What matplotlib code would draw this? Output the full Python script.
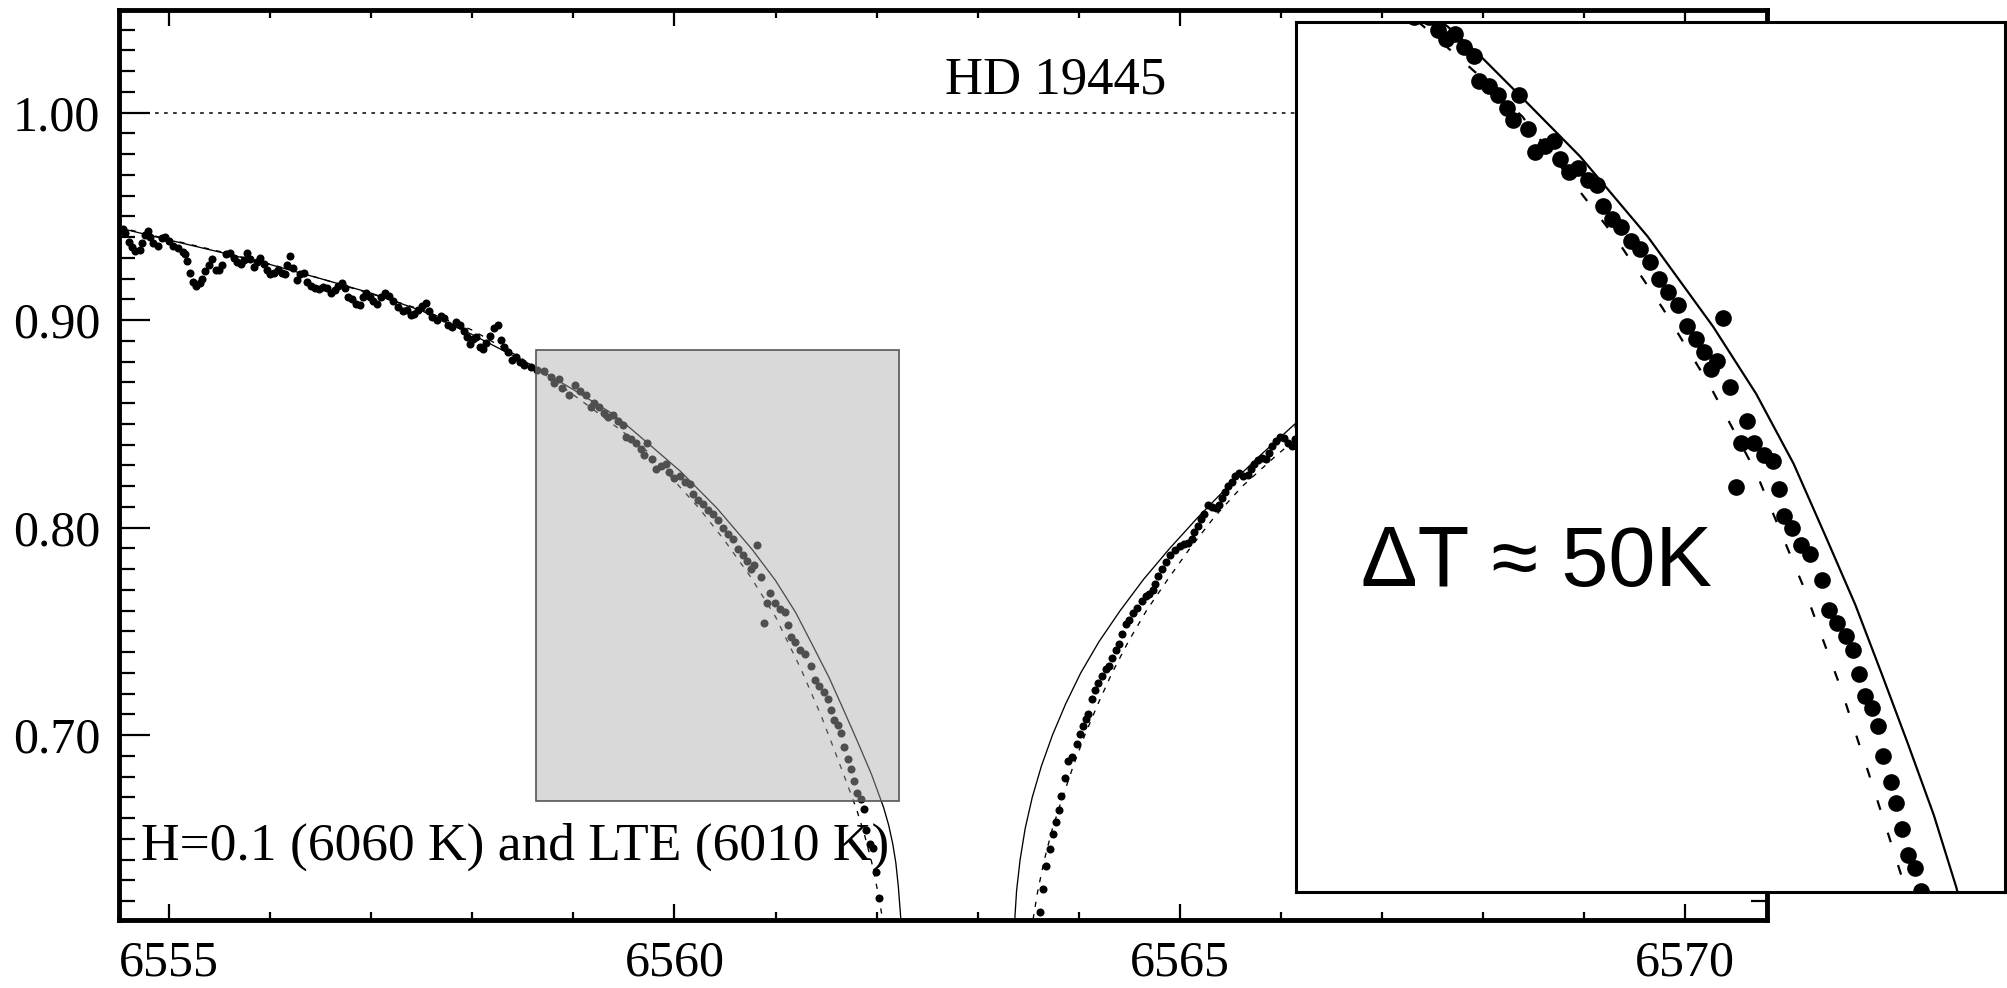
import matplotlib
matplotlib.use("Agg")
import matplotlib.pyplot as plt
from matplotlib.patches import Rectangle
from matplotlib.ticker import MultipleLocator, FormatStrFormatter

plt.rcParams["font.family"] = ["Liberation Serif", "DejaVu Serif"]

# observed spectrum, HD 19445 (H-alpha wings)
wave_obs = [
    6554.54, 6554.56, 6554.60, 6554.63, 6554.66, 6554.71, 6554.73, 6554.76, 6554.79, 6554.81,
    6554.84, 6554.89, 6554.93, 6554.96, 6555.00, 6555.04, 6555.09, 6555.14, 6555.16, 6555.18,
    6555.21, 6555.24, 6555.27, 6555.31, 6555.33, 6555.36, 6555.39, 6555.42, 6555.46, 6555.49,
    6555.52, 6555.56, 6555.60, 6555.64, 6555.67, 6555.71, 6555.74, 6555.77, 6555.80, 6555.84,
    6555.87, 6555.90, 6555.94, 6555.97, 6556.00, 6556.04, 6556.08, 6556.12, 6556.15, 6556.17,
    6556.20, 6556.23, 6556.27, 6556.30, 6556.33, 6556.36, 6556.40, 6556.44, 6556.48, 6556.52,
    6556.56, 6556.60, 6556.64, 6556.67, 6556.71, 6556.74, 6556.77, 6556.81, 6556.85, 6556.89,
    6556.92, 6556.95, 6556.99, 6557.02, 6557.06, 6557.10, 6557.14, 6557.18, 6557.22, 6557.26,
    6557.31, 6557.35, 6557.39, 6557.42, 6557.46, 6557.50, 6557.54, 6557.57, 6557.60, 6557.65,
    6557.69, 6557.72, 6557.76, 6557.80, 6557.84, 6557.88, 6557.92, 6557.95, 6557.98, 6558.01,
    6558.04, 6558.08, 6558.11, 6558.14, 6558.17, 6558.21, 6558.25, 6558.28, 6558.31, 6558.35,
    6558.39, 6558.43, 6558.47, 6558.51, 6558.58, 6558.64, 6558.71, 6558.78, 6558.81, 6558.86,
    6558.89, 6558.96, 6559.02, 6559.07, 6559.12, 6559.17, 6559.20, 6559.25, 6559.30, 6559.34,
    6559.39, 6559.44, 6559.49, 6559.52, 6559.57, 6559.62, 6559.67, 6559.70, 6559.73, 6559.78,
    6559.82, 6559.87, 6559.92, 6559.95, 6560.00, 6560.05, 6560.10, 6560.15, 6560.18, 6560.23,
    6560.28, 6560.33, 6560.38, 6560.43, 6560.48, 6560.53, 6560.58, 6560.63, 6560.68, 6560.72,
    6560.76, 6560.79, 6560.82, 6560.86, 6560.89, 6560.92, 6560.95, 6560.99, 6561.04, 6561.09,
    6561.12, 6561.15, 6561.19, 6561.24, 6561.29, 6561.35, 6561.39, 6561.43, 6561.48, 6561.52,
    6561.55, 6561.58, 6561.62, 6561.65, 6561.68, 6561.72, 6561.75, 6561.78, 6561.81, 6561.85,
    6561.88, 6561.90, 6561.93, 6561.96, 6561.99, 6562.02,
    6563.614, 6563.647, 6563.680, 6563.714, 6563.746, 6563.773, 6563.803, 6563.829, 6563.862, 6563.895,
    6563.935, 6563.978, 6564.011, 6564.044, 6564.067, 6564.093, 6564.136, 6564.160, 6564.193, 6564.226,
    6564.265, 6564.302, 6564.331, 6564.364, 6564.397, 6564.430, 6564.463, 6564.496, 6564.539, 6564.579,
    6564.622, 6564.662, 6564.695, 6564.738, 6564.754, 6564.787, 6564.820, 6564.860, 6564.903, 6564.952,
    6565.002, 6565.045, 6565.085, 6565.118, 6565.144, 6565.177, 6565.210, 6565.243, 6565.276, 6565.316,
    6565.355, 6565.388, 6565.415, 6565.448, 6565.481, 6565.514, 6565.547, 6565.587, 6565.630, 6565.672,
    6565.705, 6565.738, 6565.778, 6565.811, 6565.851, 6565.884, 6565.917, 6565.950, 6565.993, 6566.026,
    6566.069, 6566.108, 6566.141, 6566.174,
]
flux_obs = [
    0.9437, 0.9418, 0.9378, 0.9354, 0.9334, 0.9338, 0.9370, 0.9410, 0.9430, 0.9400,
    0.9370, 0.9357, 0.9394, 0.9400, 0.9380, 0.9357, 0.9346, 0.9330, 0.9320, 0.9285,
    0.9225, 0.9185, 0.9164, 0.9177, 0.9200, 0.9238, 0.9265, 0.9297, 0.9244, 0.9240,
    0.9265, 0.9320, 0.9325, 0.9300, 0.9280, 0.9270, 0.9290, 0.9325, 0.9293, 0.9254,
    0.9280, 0.9300, 0.9270, 0.9240, 0.9220, 0.9228, 0.9244, 0.9225, 0.9220, 0.9265,
    0.9310, 0.9250, 0.9193, 0.9220, 0.9228, 0.9185, 0.9164, 0.9153, 0.9148, 0.9160,
    0.9153, 0.9129, 0.9145, 0.9164, 0.9180, 0.9153, 0.9113, 0.9100, 0.9077, 0.9072,
    0.9113, 0.9132, 0.9113, 0.9093, 0.9080, 0.9110, 0.9129, 0.9116, 0.9093, 0.9064,
    0.9045, 0.9051, 0.9024, 0.9030, 0.9048, 0.9068, 0.9084, 0.9045, 0.9013, 0.9003,
    0.9019, 0.9008, 0.8976, 0.8968, 0.8992, 0.8976, 0.8949, 0.8920, 0.8884, 0.8907,
    0.8920, 0.8871, 0.8863, 0.8890, 0.8923, 0.8960, 0.8976, 0.8903, 0.8871, 0.8847,
    0.8807, 0.8823, 0.8799, 0.8783, 0.8772, 0.8762, 0.8753, 0.8724, 0.8695, 0.8714,
    0.8671, 0.8638, 0.8686, 0.8657, 0.8638, 0.8581, 0.8600, 0.8581, 0.8552, 0.8533,
    0.8543, 0.8514, 0.8495, 0.8438, 0.8428, 0.8409, 0.8380, 0.8352, 0.8409, 0.8333,
    0.8282, 0.8295, 0.8305, 0.8266, 0.8238, 0.8247, 0.8219, 0.8209, 0.8162, 0.8133,
    0.8114, 0.8085, 0.8066, 0.8038, 0.8000, 0.7971, 0.7943, 0.7895, 0.7866, 0.7838,
    0.7799, 0.7818, 0.7914, 0.7761, 0.7538, 0.7637, 0.7685, 0.7637, 0.7609, 0.7595,
    0.7533, 0.7475, 0.7447, 0.7409, 0.7390, 0.7333, 0.7266, 0.7237, 0.7208, 0.7176,
    0.7123, 0.7075, 0.7047, 0.7009, 0.6942, 0.6885, 0.6837, 0.6780, 0.6723, 0.6694,
    0.6643, 0.6542, 0.6475, 0.6456, 0.6341, 0.6217,
    0.6147, 0.6258, 0.6367, 0.6453, 0.6525, 0.6580, 0.6637, 0.6706, 0.6792, 0.6873,
    0.6896, 0.6959, 0.7007, 0.7045, 0.7076, 0.7102, 0.7174, 0.7217, 0.7252, 0.7283,
    0.7317, 0.7334, 0.7372, 0.7412, 0.7438, 0.7486, 0.7536, 0.7555, 0.7589, 0.7613,
    0.7648, 0.7670, 0.7682, 0.7699, 0.7730, 0.7768, 0.7799, 0.7834, 0.7868, 0.7894,
    0.7911, 0.7920, 0.7928, 0.7946, 0.7980, 0.8009, 0.8040, 0.8066, 0.8109, 0.8100,
    0.8095, 0.8109, 0.8144, 0.8170, 0.8199, 0.8221, 0.8250, 0.8261, 0.8247, 0.8256,
    0.8281, 0.8307, 0.8324, 0.8336, 0.8333, 0.8359, 0.8393, 0.8418, 0.8436, 0.8433,
    0.8410, 0.8393, 0.8428, 0.8488,
]

# model H=0.1 (6060 K): blue and red wing
wave_h01_blue = [6554.50, 6555.00, 6555.50, 6556.00, 6556.50, 6557.00, 6557.50, 6558.00, 6558.60,
                 6559.00, 6559.35, 6559.51, 6559.77, 6560.06, 6560.42, 6560.77, 6561.00, 6561.20,
                 6561.37, 6561.53, 6561.67, 6561.81, 6561.95, 6562.07, 6562.12, 6562.16, 6562.19,
                 6562.215, 6562.24]
flux_h01_blue = [0.9445, 0.9386, 0.9328, 0.9268, 0.9200, 0.9130, 0.9045, 0.8930, 0.8780,
                 0.8665, 0.8560, 0.8501, 0.8393, 0.8271, 0.8094, 0.7894, 0.7745, 0.7590,
                 0.7430, 0.7277, 0.7125, 0.6970, 0.6810, 0.6650, 0.6565, 0.6475, 0.6385,
                 0.6270, 0.6111]
wave_h01_red = [6563.367, 6563.385, 6563.420, 6563.470, 6563.540, 6563.630, 6563.740, 6563.870,
                6564.020, 6564.200, 6564.410, 6564.640, 6564.900, 6565.180, 6565.480, 6565.800,
                6566.140, 6566.450]
flux_h01_red = [0.6112, 0.6250, 0.6400, 0.6550, 0.6700, 0.6850, 0.7000, 0.7150,
                0.7300, 0.7450, 0.7600, 0.7750, 0.7900, 0.8050, 0.8200, 0.8350,
                0.8500, 0.8620]

# model LTE (6010 K)
wave_lte_blue = [6554.50, 6555.00, 6555.50, 6556.00, 6556.50, 6557.00, 6557.50, 6558.00, 6558.50,
                 6559.00, 6559.25, 6559.50, 6559.75, 6560.00, 6560.25, 6560.50, 6560.75, 6561.00,
                 6561.25, 6561.45, 6561.60, 6561.72, 6561.80, 6561.88, 6561.95, 6562.01, 6562.06]
flux_lte_blue = [0.9448, 0.9389, 0.9331, 0.9270, 0.9200, 0.9127, 0.9050, 0.8952, 0.8812,
                 0.8640, 0.8550, 0.8458, 0.8360, 0.8225, 0.8090, 0.7935, 0.7765, 0.7570,
                 0.7320, 0.7095, 0.6905, 0.6750, 0.6645, 0.6520, 0.6390, 0.6250, 0.6111]
wave_lte_red = [6563.548, 6563.595, 6563.660, 6563.740, 6563.840, 6563.945, 6564.060, 6564.190,
                6564.330, 6564.490, 6564.670, 6564.880, 6565.100, 6565.340, 6565.620, 6565.960,
                6566.330, 6566.600]
flux_lte_red = [0.6112, 0.6250, 0.6400, 0.6550, 0.6700, 0.6850, 0.7000, 0.7150,
                0.7300, 0.7450, 0.7600, 0.7750, 0.7900, 0.8050, 0.8200, 0.8350,
                0.8500, 0.8590]

zoom_box = (6558.627, 0.6681, 6562.218, 0.8857)

fig = plt.figure(figsize=(20.08, 9.88), dpi=100)
ax = fig.add_axes([0.0593, 0.0693, 0.8207, 0.9204])


def draw_spectrum(a, ms, lw, dash):
    a.plot(wave_h01_blue, flux_h01_blue, color="black", lw=lw, zorder=2)
    a.plot(wave_h01_red, flux_h01_red, color="black", lw=lw, zorder=2)
    a.plot(wave_lte_blue, flux_lte_blue, color="black", lw=lw, ls=(0, dash), zorder=2)
    a.plot(wave_lte_red, flux_lte_red, color="black", lw=lw, ls=(0, dash), zorder=2)
    a.plot(wave_obs, flux_obs, "o", color="black", ms=ms, mec="none", zorder=3)


draw_spectrum(ax, 5.8, 0.95, (4.0, 5.5))
ax.axhline(1.0, color="black", lw=1.1, ls=(0, (2.4, 3.5)), zorder=1)

x0, y0, x1, y1 = zoom_box
ax.add_patch(Rectangle((x0, y0), x1 - x0, y1 - y0, facecolor=(0.68, 0.68, 0.68, 0.46),
                       edgecolor="#555555", lw=1.2, zorder=4))

ax.text(6563.77, 1.0093, "HD 19445", fontsize=38, ha="center", va="baseline")
ax.text(6554.72, 0.6398, "H=0.1 (6060 K) and LTE (6010 K)", fontsize=38.5,
        ha="left", va="baseline", zorder=2.5)

ax.set_xlim(6554.505, 6570.81)
ax.set_ylim(0.6111, 1.0494)
ax.xaxis.set_major_locator(MultipleLocator(5))
ax.xaxis.set_minor_locator(MultipleLocator(1))
ax.yaxis.set_major_locator(MultipleLocator(0.1))
ax.yaxis.set_minor_locator(MultipleLocator(0.01))
ax.xaxis.set_major_formatter(FormatStrFormatter("%d"))
ax.yaxis.set_major_formatter(FormatStrFormatter("%.2f"))
ax.tick_params(axis="x", which="major", direction="in", length=11.5, width=1.6,
               top=True, bottom=True, pad=15, labelsize=36)
ax.tick_params(axis="x", which="minor", direction="in", length=5.8, width=1.6, top=True, bottom=True)
ax.tick_params(axis="y", which="major", direction="in", length=22.3, width=1.6,
               left=True, right=True, pad=13.5, labelsize=36)
ax.tick_params(axis="y", which="minor", direction="in", length=11.5, width=1.6, left=True, right=True)
for sp in ax.spines.values():
    sp.set_linewidth(3.5)

# magnified view of the wing
axin = fig.add_axes([0.6454, 0.0972, 0.3531, 0.8806], zorder=10)
draw_spectrum(axin, 12, 1.6, (4.5, 10.8))
axin.set_xlim(6558.54, 6562.33)
axin.set_ylim(0.664, 0.857)
axin.set_xticks([])
axin.set_yticks([])
for sp in axin.spines.values():
    sp.set_linewidth(2.2)
axin.text(0.0917, 0.352, "ΔT ≈ 50K", transform=axin.transAxes, fontsize=61,
          family=["Liberation Sans", "DejaVu Sans"], ha="left", va="baseline")

fig.savefig("out.png", dpi=100)
